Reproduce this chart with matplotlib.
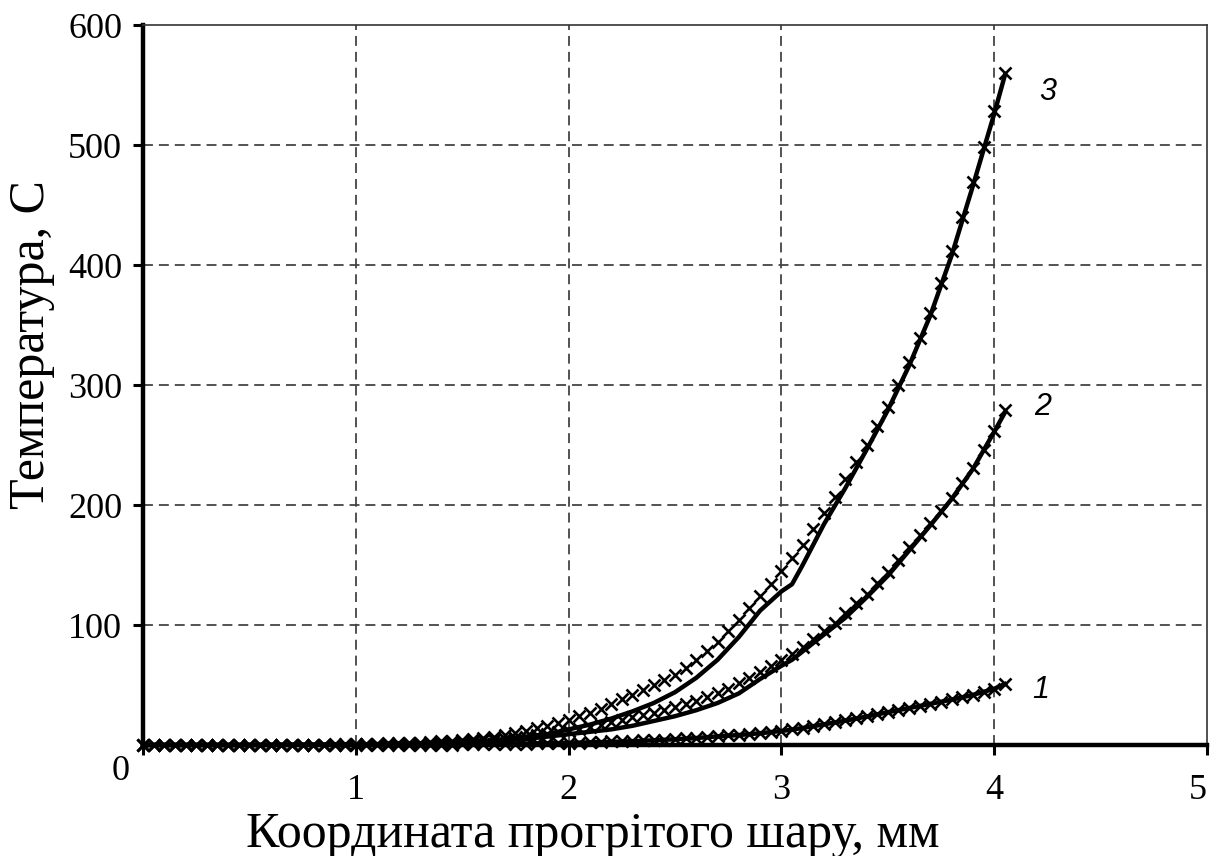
import numpy as np
import matplotlib
matplotlib.use("Agg")
import matplotlib.pyplot as plt

# ---------------- data ----------------
# marker (experimental) points, x step 0.05 mm from 0 to 4.05
x_markers = np.round(np.arange(0, 4.0501, 0.05), 2)

curve3_markers = [
    0, 0, 0, 0, 0, 0, 0, 0, 0, 0, 0, 0, 0, 0, 0, 0, 0, 0, 0.5, 0.5,
    1, 1, 1, 1.5, 1.5, 2, 2, 2.5, 3, 3.5,
    4, 5, 6, 7, 8, 10, 12, 14, 16, 18,
    21, 24, 27, 30, 34, 38, 42, 46, 50, 54,
    58, 64, 71, 78, 86, 95, 104, 114, 124, 134,
    145, 156, 167, 180, 193, 207, 222, 236, 250, 266,
    282, 300, 319, 339, 360, 385, 412, 440, 469, 498,
    528, 560,
]
curve2_markers = [
    0, 0, 0, 0, 0, 0, 0, 0, 0, 0, 0, 0, 0, 0, 0, 0, 0, 0, 0, 0,
    0.5, 0.5, 1, 1, 1, 1.5, 1.5, 2, 2, 2.5,
    3, 3.5, 4, 4.5, 5, 6, 7, 8, 9, 10.5,
    12, 13.5, 15, 17, 19, 21, 23, 25, 27, 29.5,
    32, 34.5, 37, 40, 43, 47, 52, 56, 61, 66,
    71, 76, 82, 88, 95, 102, 110, 118, 126, 135,
    144, 154, 165, 175, 185, 195, 206, 218, 231, 246,
    262, 279,
]
curve1_markers = [
    0, 0, 0, 0, 0, 0, 0, 0, 0, 0, 0, 0, 0, 0, 0, 0, 0, 0, 0, 0,
    0, 0, 0, 0, 0, 0, 0, 0, 0, 0,
    0.5, 0.5, 0.5, 1, 1, 1, 1, 1.5, 1.5, 1.5,
    2, 2, 2.5, 2.5, 3, 3, 3.5, 4, 4, 4.5,
    5, 5.5, 6, 6.8, 7.5, 8, 8.5, 9.2, 10, 11,
    12, 13.2, 14.5, 16, 17.5, 19, 20.5, 22.2, 24, 25.8,
    27.5, 29.2, 31, 32.8, 34.5, 36.2, 38, 40, 42, 44.5,
    47, 51,
]

# solid (calculated) curves
x_lines = [0, 0.5, 1.0, 1.5, 1.6, 1.7, 1.8, 1.9, 2.0, 2.1, 2.2, 2.3, 2.4, 2.5,
           2.6, 2.7, 2.8, 2.9, 3.0, 3.05, 3.1, 3.2, 3.3, 3.4, 3.5, 3.6, 3.7,
           3.8, 3.9, 4.0, 4.05]
curve3_line = [0, 0, 0.5, 2, 3, 5, 7, 9, 13, 17, 22, 28, 35, 44,
               56, 71, 90, 112, 128, 134, 150, 184, 214, 246, 279, 316, 358,
               408, 466, 526, 558]
curve2_line = [0, 0, 0.3, 2, 3, 4, 5, 7, 9, 11, 13, 16, 20, 24,
               29, 35, 43, 55, 66, 71, 78, 92, 106, 123, 141, 162, 183,
               205, 230, 261, 277]
curve1_line = [0, 0, 0, 0.5, 0.7, 1, 1.2, 1.4, 1.8, 2.2, 2.6, 3.2, 3.9, 4.8,
               5.8, 7.2, 8.3, 9.8, 11.7, 12.8, 14.2, 17.2, 20.3, 23.7, 27.3, 30.8, 34.3,
               37.8, 41.8, 46.8, 50.8]

curve_labels = ["1", "2", "3"]
label_x = [4.22, 4.23, 4.25]
label_y = [46, 282, 544]

xticks = [1, 2, 3, 4, 5]
yticks = [100, 200, 300, 400, 500, 600]
xlabel = "Координата прогрітого шару, мм"
ylabel = "Температура, С"

# ---------------- figure ----------------
serif = ["Liberation Serif", "DejaVu Serif"]
fig = plt.figure(figsize=(12.13, 8.56), dpi=100)
ax = fig.add_axes([143 / 1213, 1 - 745 / 856, (1207 - 143) / 1213, (745 - 25) / 856])

ax.set_xlim(0, 5)
ax.set_ylim(0, 600)

for v in [1, 2, 3, 4]:
    ax.axvline(v, color="#444444", lw=1.3, dashes=(5.5, 3.3), zorder=1)
for v in [100, 200, 300, 400, 500]:
    ax.axhline(v, color="#444444", lw=1.3, dashes=(5.5, 3.3), zorder=1)

for xl, yl in [(x_lines, curve1_line), (x_lines, curve2_line), (x_lines, curve3_line)]:
    ax.plot(xl, yl, color="black", lw=3.2, zorder=3, clip_on=False,
            solid_joinstyle="round")
for ym in [curve1_markers, curve2_markers, curve3_markers]:
    ax.plot(x_markers, ym, ls="none", marker="x", ms=9, mew=1.9,
            color="black", zorder=4, clip_on=False)

for t, lx, ly in zip(curve_labels, label_x, label_y):
    ax.text(lx, ly, t, fontsize=22, style="italic",
            family=["Liberation Sans", "DejaVu Sans"], ha="center", va="center")

# spines
for s in ["top", "right"]:
    ax.spines[s].set_linewidth(1.2)
    ax.spines[s].set_color("#333333")
for s in ["left", "bottom"]:
    ax.spines[s].set_linewidth(3.2)
    ax.spines[s].set_color("black")
    ax.spines[s].set_zorder(2.5)

ax.set_xticks([0] + xticks)
ax.set_xticklabels([""] + [str(t) for t in xticks])
ax.set_yticks(yticks)
ax.set_yticklabels([str(t) for t in yticks])
ax.tick_params(axis="x", direction="out", length=7, width=2.2, pad=14,
               labelsize=26)
ax.tick_params(axis="y", direction="out", length=7, width=2.2, pad=8,
               labelsize=26)
for lab in ax.get_xticklabels() + ax.get_yticklabels():
    lab.set_family(serif)
ax.get_xticklabels()[-1].set_horizontalalignment("right")
ax.get_xticklabels()[-1].set_x(4.995)

fig.text(121 / 1213, 1 - 772 / 856, "0", fontsize=26, family=serif,
         ha="center", va="center")
fig.text(593 / 1213, 1 - 835 / 856, xlabel, fontsize=36, family=serif,
         ha="center", va="center")
fig.text(32 / 1213, 1 - 345 / 856, ylabel, fontsize=36, family=serif,
         ha="center", va="center", rotation=90)

fig.savefig("out.png", dpi=100)
